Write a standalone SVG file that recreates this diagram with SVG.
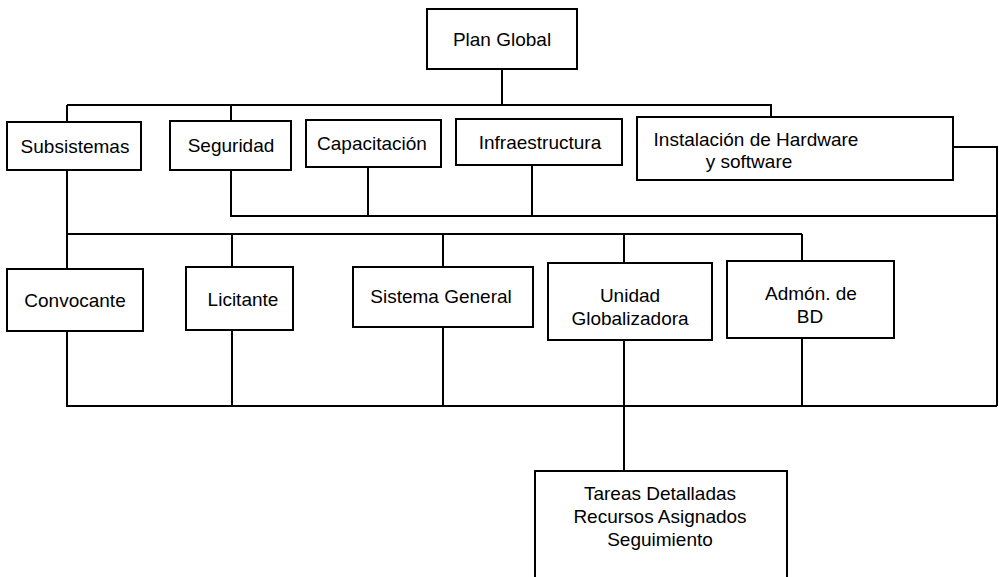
<svg xmlns="http://www.w3.org/2000/svg" width="999" height="577" viewBox="0 0 999 577">
<style>
.box{fill:#fff;stroke:#000;stroke-width:2}
.ln{fill:none;stroke:#000;stroke-width:2}
text{font-family:"Liberation Sans",Arial,sans-serif;font-size:19px;fill:#000;text-anchor:middle}
</style>
<rect width="999" height="577" fill="#fff"/>
<g id="connectors" class="ln">
<path d="M502 69V105M67 105H771V118M67 105V122M231 105V121"/>
<path d="M67 170V234M231 170V216H997M368 167V216M532 165V216M953 147H997V406"/>
<path d="M67 234H802M67 234V269M232 234V267M443 234V267M624 234V263M802 234V261"/>
<path d="M67 331V406H997M232 330V406M443 327V406M624 340V471M802 338V406"/>
</g>
<g id="plan-global"><rect class="box" x="427" y="9" width="150" height="60"/><text x="502" y="46">Plan Global</text></g>
<g id="subsistemas"><rect class="box" x="7" y="122" width="134" height="48"/><text x="75" y="153">Subsistemas</text></g>
<g id="seguridad"><rect class="box" x="170" y="121" width="121" height="49"/><text x="231" y="152">Seguridad</text></g>
<g id="capacitacion"><rect class="box" x="306" y="120" width="135" height="47"/><text x="372" y="150">Capacitación</text></g>
<g id="infraestructura"><rect class="box" x="456" y="119" width="166" height="46"/><text x="540" y="149">Infraestructura</text></g>
<g id="instalacion"><rect class="box" x="637" y="117" width="316" height="63"/><text x="756" y="146">Instalación de Hardware</text><text x="749" y="168">y software</text></g>
<g id="convocante"><rect class="box" x="7" y="269" width="136" height="62"/><text x="75" y="307">Convocante</text></g>
<g id="licitante"><rect class="box" x="186" y="267" width="107" height="63"/><text x="243" y="306">Licitante</text></g>
<g id="sistema-general"><rect class="box" x="353" y="267" width="180" height="60"/><text x="441" y="303">Sistema General</text></g>
<g id="unidad-globalizadora"><rect class="box" x="548" y="263" width="164" height="77"/><text x="630" y="302">Unidad</text><text x="630" y="325">Globalizadora</text></g>
<g id="admon-bd"><rect class="box" x="727" y="261" width="167" height="77"/><text x="811" y="300">Admón. de</text><text x="810" y="323">BD</text></g>
<g id="tareas"><rect class="box" x="535" y="471" width="252" height="115"/><text x="660" y="500">Tareas Detalladas</text><text x="660" y="523">Recursos Asignados</text><text x="660" y="546">Seguimiento</text></g>
</svg>
